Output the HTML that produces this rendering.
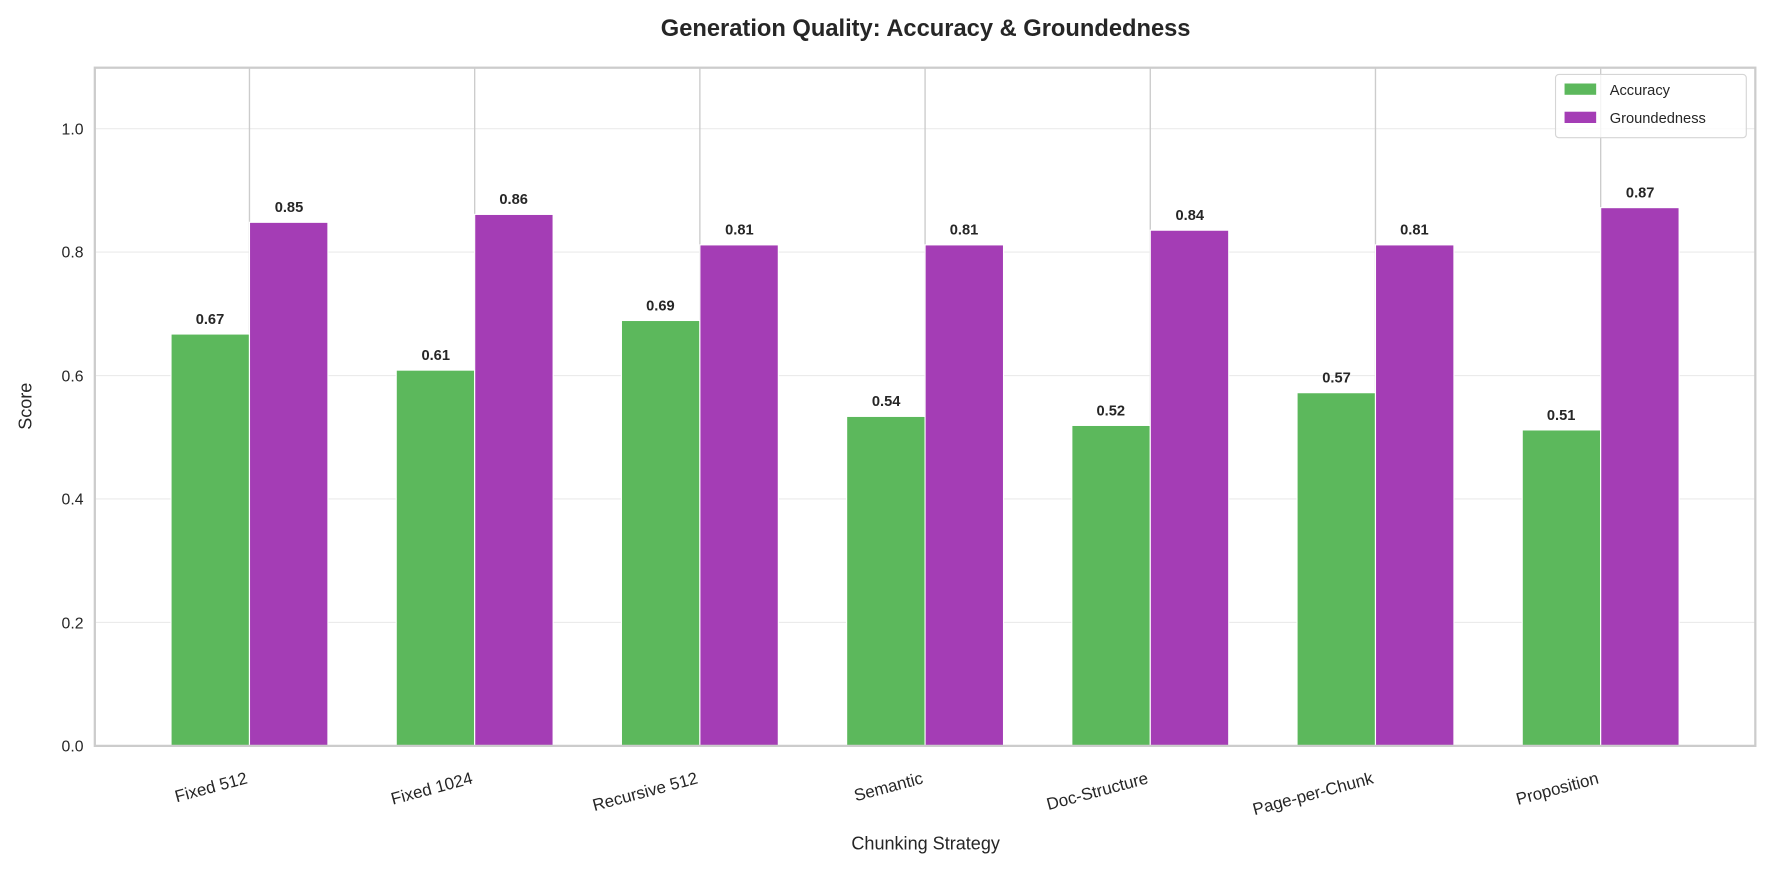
<!DOCTYPE html>
<html><head><meta charset="utf-8"><style>
html,body{margin:0;padding:0;background:#fff;}
svg{display:block;font-family:"Liberation Sans",Arial,sans-serif;}
</style></head><body>
<svg width="1770" height="870" viewBox="0 0 1568 771" preserveAspectRatio="none" xmlns="http://www.w3.org/2000/svg">
<rect width="1568" height="771" fill="#fff"/>
<text x="820" y="32" text-anchor="middle" font-size="21" font-weight="bold" fill="#262626">Generation Quality: Accuracy &amp; Groundedness</text>
<g stroke="#ebebeb" stroke-width="1">
<line x1="84" x2="1555" y1="551.6" y2="551.6"/>
<line x1="84" x2="1555" y1="442.2" y2="442.2"/>
<line x1="84" x2="1555" y1="332.8" y2="332.8"/>
<line x1="84" x2="1555" y1="223.4" y2="223.4"/>
<line x1="84" x2="1555" y1="114" y2="114"/>
</g>
<g stroke="#cccccc" stroke-width="1.2">
<line x1="221" x2="221" y1="60" y2="661"/>
<line x1="420.5" x2="420.5" y1="60" y2="661"/>
<line x1="620" x2="620" y1="60" y2="661"/>
<line x1="819.5" x2="819.5" y1="60" y2="661"/>
<line x1="1019" x2="1019" y1="60" y2="661"/>
<line x1="1218.5" x2="1218.5" y1="60" y2="661"/>
<line x1="1418" x2="1418" y1="60" y2="661"/>
</g>
<g stroke="#fff" stroke-width="1">
<g fill="#5cb85c">
<rect x="151.5" y="296" width="69.5" height="365"/>
<rect x="351" y="328" width="69.5" height="333"/>
<rect x="550.5" y="284" width="69.5" height="377"/>
<rect x="750" y="369" width="69.5" height="292"/>
<rect x="949.5" y="377" width="69.5" height="284"/>
<rect x="1149" y="348" width="69.5" height="313"/>
<rect x="1348.5" y="381" width="69.5" height="280"/>
</g>
<g fill="#a43db5">
<rect x="221" y="197" width="69.5" height="464"/>
<rect x="420.5" y="190" width="69.5" height="471"/>
<rect x="620" y="217" width="69.5" height="444"/>
<rect x="819.5" y="217" width="69.5" height="444"/>
<rect x="1019" y="204" width="69.5" height="457"/>
<rect x="1218.5" y="217" width="69.5" height="444"/>
<rect x="1418" y="184" width="69.5" height="477"/>
</g>
</g>
<g font-size="13" font-weight="bold" fill="#262626" text-anchor="middle">
<text x="186" y="287">0.67</text><text x="256" y="188">0.85</text>
<text x="386" y="319">0.61</text><text x="455" y="181">0.86</text>
<text x="585" y="275">0.69</text><text x="655" y="208">0.81</text>
<text x="785" y="360">0.54</text><text x="854" y="208">0.81</text>
<text x="984" y="368">0.52</text><text x="1054" y="195">0.84</text>
<text x="1184" y="339">0.57</text><text x="1253" y="208">0.81</text>
<text x="1383" y="372">0.51</text><text x="1453" y="175">0.87</text>
</g>
<rect x="84" y="60" width="1471" height="601" fill="none" stroke="#cccccc" stroke-width="2"/>
<g font-size="14" fill="#262626" text-anchor="end">
<text x="74" y="666">0.0</text>
<text x="74" y="557">0.2</text>
<text x="74" y="447">0.4</text>
<text x="74" y="338">0.6</text>
<text x="74" y="228">0.8</text>
<text x="74" y="119">1.0</text>
</g>
<text transform="translate(28,360) rotate(-90)" text-anchor="middle" font-size="16" fill="#262626">Score</text>
<g font-size="15" fill="#262626" text-anchor="end">
<text transform="translate(220,694) rotate(-15)">Fixed 512</text>
<text transform="translate(419.5,694) rotate(-15)">Fixed 1024</text>
<text transform="translate(619,694) rotate(-15)">Recursive 512</text>
<text transform="translate(818.5,694) rotate(-15)">Semantic</text>
<text transform="translate(1018,694) rotate(-15)">Doc-Structure</text>
<text transform="translate(1217.5,694) rotate(-15)">Page-per-Chunk</text>
<text transform="translate(1417,694) rotate(-15)">Proposition</text>
</g>
<text x="820" y="753" text-anchor="middle" font-size="16" fill="#262626">Chunking Strategy</text>
<rect x="1378" y="66" width="169" height="56" rx="3" fill="#fff" fill-opacity="0.8" stroke="#d5d5d5" stroke-width="1"/>
<rect x="1386" y="74" width="28" height="10" fill="#5cb85c"/>
<rect x="1386" y="99" width="28" height="10" fill="#a43db5"/>
<g font-size="13" fill="#262626">
<text x="1426" y="84">Accuracy</text>
<text x="1426" y="109">Groundedness</text>
</g>
</svg>
</body></html>
